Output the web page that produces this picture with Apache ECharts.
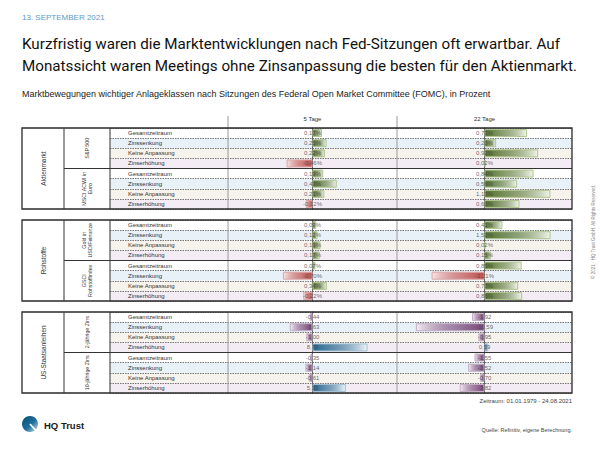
<!DOCTYPE html>
<html>
<head>
<meta charset="utf-8">
<script src="https://cdn.jsdelivr.net/npm/echarts@6/dist/echarts.min.js"></script>
<style>html,body{margin:0;padding:0;background:#fff}#c{width:600px;height:450px}</style>
</head>
<body>
<div id="c"></div>
<script>
// ---- data ----
const rowLabels = ['Gesamtzeitraum', 'Zinssenkung', 'Keine Anpassung', 'Zinserhöhung'];
const groupLabels = ['Aktienmarkt', 'Rohstoffe', 'US-Staatsanleihen'];
const subLabels = [['S&P 500', 'MSCI ACWI in\nEuro'], ['Gold in\nUSD/Feinunze', 'GSCI\nRohstoffindex'], ['2-jährige Zins', '10-jährige Zins']];
const columnLabels = ['5 Tage', '22 Tage'];
const sp500_5 = [0.17, 0.25, 0.22, -0.46];
const sp500_22 = [0.73, 0.20, 0.92, 0.02];
const msci_5 = [0.19, 0.43, 0.21, -0.12];
const msci_22 = [0.84, 0.56, 1.13, 0.60];
const gold_5 = [0.09, 0.12, 0.19, 0.17];
const gold_22 = [0.41, 1.51, 0.02, 0.15];
const gsci_5 = [0.07, -0.70, 0.34, -0.22];
const gsci_22 = [0.85, -1.21, 0.77, 0.86];
const y2_5 = [-0.44, -3.63, -1.00, 8.79];
const y2_22 = [-1.92, -10.59, -0.95, 0.59];
const y10_5 = [-0.35, -1.14, -0.61, 5.33];
const y10_22 = [-1.55, -2.52, -0.70, -3.82];
const footnotePeriod = 'Zeitraum: 01.01.1979 - 24.08.2021';
const footnoteSource = 'Quelle: Refinitiv, eigene Berechnung.';

// ---- layout ----
const FONT = 'Liberation Sans, Arial, sans-serif';
const L0 = 22, C1 = 64, C2 = 110, C3 = 228, C4 = 397, R0 = 572;
const tops = [128, 220, 312], H = 81;
const ranges = [1.5, 2.0, 13.5];
const sections = [
  { v5: sp500_5.concat(msci_5), v22: sp500_22.concat(msci_22), pct: true, bonds: false },
  { v5: gold_5.concat(gsci_5), v22: gold_22.concat(gsci_22), pct: true, bonds: false },
  { v5: y2_5.concat(y10_5), v22: y2_22.concat(y10_22), pct: false, bonds: true }
];
const rowColors = ['#ffffff', '#e8f0f8', '#f6f2ec', '#f4ecf4'];

function grad(dark, light, neg) {
  return { type: 'linear', x: 0, y: 0, x2: 1, y2: 0,
    colorStops: neg ? [{ offset: 0, color: light }, { offset: 0.55, color: dark + 'aa' }, { offset: 1, color: dark }]
                    : [{ offset: 0, color: dark }, { offset: 0.45, color: dark + 'aa' }, { offset: 1, color: light }] };
}
function barStyle(v, bonds) {
  if (bonds) {
    if (v < 0) return { color: grad('#7a4a7b', '#f3ecf3', true), borderColor: '#c6aec6', borderWidth: 1 };
    return { color: grad('#2a6990', '#eef4f8', false), borderColor: '#a2c0d4', borderWidth: 1 };
  }
  if (v < 0) return { color: grad('#c0504d', '#f8e4e4', true), borderColor: '#dca6a6', borderWidth: 1 };
  return { color: grad('#55722f', '#f1f5eb', false), borderColor: '#afc58f', borderWidth: 1 };
}
function fmt(v, pct) {
  return v.toFixed(2).replace('.', ',') + (pct ? '%' : '');
}

const grid = [], xAxis = [], yAxis = [], series = [], graphic = [];
const rows8 = rowLabels.concat(rowLabels);

sections.forEach((sec, s) => {
  const top = tops[s];
  grid.push({ left: C2, top: top, width: R0 - C2, height: H });
  xAxis.push({ type: 'value', gridIndex: 3 * s, min: 0, max: 1, show: false });
  yAxis.push({ type: 'category', gridIndex: 3 * s, data: rows8, inverse: true,
    axisLine: { show: false }, axisTick: { show: false },
    axisLabel: { inside: true, margin: 18, interval: 0, fontSize: 6, color: '#333', fontFamily: FONT },
    splitLine: { show: true, interval: 0, lineStyle: { type: [1.5, 1], color: '#555', width: 0.8 } },
    splitArea: { show: true, interval: 0, areaStyle: { color: rowColors } } });
  [[C3, C4, sec.v5, 0], [C4, R0, sec.v22, 1]].forEach(([a, b, vals, ci]) => {
    const gi = grid.length;
    grid.push({ left: a, top: top, width: b - a, height: H });
    xAxis.push({ type: 'value', gridIndex: gi, min: -ranges[s], max: ranges[s],
      show: s === 0, position: 'top',
      name: s === 0 ? columnLabels[ci] : '', nameLocation: 'middle', nameGap: 6,
      nameTextStyle: { fontSize: 6, color: '#333', fontFamily: FONT },
      axisLine: { show: false }, axisTick: { show: false }, axisLabel: { show: false }, splitLine: { show: false } });
    yAxis.push({ type: 'category', gridIndex: gi, data: rows8, inverse: true,
      axisLabel: { show: false }, axisTick: { show: false }, splitLine: { show: false },
      axisLine: { show: true, onZero: true, lineStyle: { color: '#666', width: 1 } } });
    series.push({ type: 'bar', xAxisIndex: gi, yAxisIndex: gi, barWidth: 8, silent: true,
      data: vals.map(v => ({ value: v, itemStyle: barStyle(v, sec.bonds) })) });
    series.push({ type: 'scatter', xAxisIndex: gi, yAxisIndex: gi, symbolSize: 0, silent: true, z: 5,
      data: vals.map((v, i) => [0, i, v]),
      label: { show: true, position: 'inside', fontSize: 6, color: '#444', fontFamily: FONT,
        formatter: p => fmt(p.data[2], sec.pct) } });
  });
  const lineDark = { stroke: '#333', lineWidth: 1 };
  graphic.push({ type: 'rect', z: 100, shape: { x: L0, y: top, width: R0 - L0, height: H }, style: { fill: 'none', stroke: '#2a2a2a', lineWidth: 1.3 } });
  graphic.push({ type: 'line', z: 100, shape: { x1: C1, y1: top, x2: C1, y2: top + H }, style: lineDark });
  graphic.push({ type: 'line', z: 100, shape: { x1: C2, y1: top, x2: C2, y2: top + H }, style: lineDark });
  graphic.push({ type: 'line', z: 100, shape: { x1: C1, y1: top + H / 2, x2: R0, y2: top + H / 2 }, style: lineDark });
  graphic.push({ type: 'line', z: 99, shape: { x1: C3, y1: top, x2: C3, y2: top + H }, style: { stroke: '#9a9a9a', lineWidth: 1 } });
  graphic.push({ type: 'line', z: 99, shape: { x1: C4, y1: top, x2: C4, y2: top + H }, style: { stroke: '#9a9a9a', lineWidth: 1 } });
  graphic.push({ type: 'text', x: (L0 + C1) / 2, y: top + H / 2, rotation: Math.PI / 2,
    style: { text: groupLabels[s], fontSize: 6.5, fill: '#333', align: 'center', verticalAlign: 'middle', fontFamily: FONT } });
  subLabels[s].forEach((t, k) => {
    graphic.push({ type: 'text', x: (C1 + C2) / 2, y: top + H / 4 + k * H / 2, rotation: Math.PI / 2,
      style: { text: t, fontSize: 5.3, lineHeight: 6.5, fill: '#333', align: 'center', verticalAlign: 'middle', fontFamily: FONT } });
  });
});
graphic.push({ type: 'line', shape: { x1: C3, y1: 116, x2: C3, y2: tops[0] }, style: { stroke: '#9a9a9a', lineWidth: 1 } });
graphic.push({ type: 'line', shape: { x1: C4, y1: 116, x2: C4, y2: tops[0] }, style: { stroke: '#9a9a9a', lineWidth: 1 } });
graphic.push({ type: 'text', x: 593, y: 232, rotation: Math.PI / 2,
  style: { text: '© 2021 · HQ Trust GmbH. All Rights Reserved.', fontSize: 4.5, fill: '#888', align: 'center', verticalAlign: 'middle', fontFamily: FONT } });
graphic.push({ type: 'circle', shape: { cx: 30, cy: 424, r: 8 },
  style: { fill: { type: 'linear', x: 0, y: 0, x2: 1, y2: 1, colorStops: [{ offset: 0, color: '#0b4d78' }, { offset: 0.55, color: '#1d6f9c' }, { offset: 1, color: '#d6e8f2' }] } } });
graphic.push({ type: 'line', shape: { x1: 30, y1: 424, x2: 38, y2: 433 }, style: { stroke: '#ffffff', lineWidth: 1.6 } });
graphic.push({ type: 'text', x: 44, y: 425, style: { text: 'HQ Trust', fontSize: 9.5, fontWeight: 'bold', fill: '#1a1a1a', verticalAlign: 'middle', fontFamily: FONT } });

const option = {
  animation: false,
  backgroundColor: '#ffffff',
  title: [
    { text: '13. SEPTEMBER 2021', left: L0, top: 13, padding: 0, textStyle: { fontSize: 8, fontWeight: 'normal', color: '#5a9ac6', fontFamily: FONT } },
    { text: 'Kurzfristig waren die Marktentwicklungen nach Fed-Sitzungen oft erwartbar. Auf\nMonatssicht waren Meetings ohne Zinsanpassung die besten für den Aktienmarkt.',
      left: L0, top: 33, padding: 0, textStyle: { fontSize: 15.2, lineHeight: 22, fontWeight: 'normal', color: '#111', fontFamily: 'Roboto, ' + FONT } },
    { text: 'Marktbewegungen wichtiger Anlageklassen nach Sitzungen des Federal Open Market Committee (FOMC), in Prozent',
      left: L0, top: 89, padding: 0, textStyle: { fontSize: 9, fontWeight: 'normal', color: '#222', fontFamily: FONT } },
    { text: footnotePeriod, right: 600 - R0, top: 398, padding: 0, textStyle: { fontSize: 6, fontWeight: 'normal', color: '#444', fontFamily: FONT } },
    { text: footnoteSource, right: 600 - R0, top: 427, padding: 0, textStyle: { fontSize: 5.5, fontWeight: 'normal', color: '#444', fontFamily: FONT } }
  ],
  grid, xAxis, yAxis, series, graphic
};
const chart = echarts.init(document.getElementById('c'), null, { renderer: 'svg' });
chart.setOption(option);
</script>
</body>
</html>
